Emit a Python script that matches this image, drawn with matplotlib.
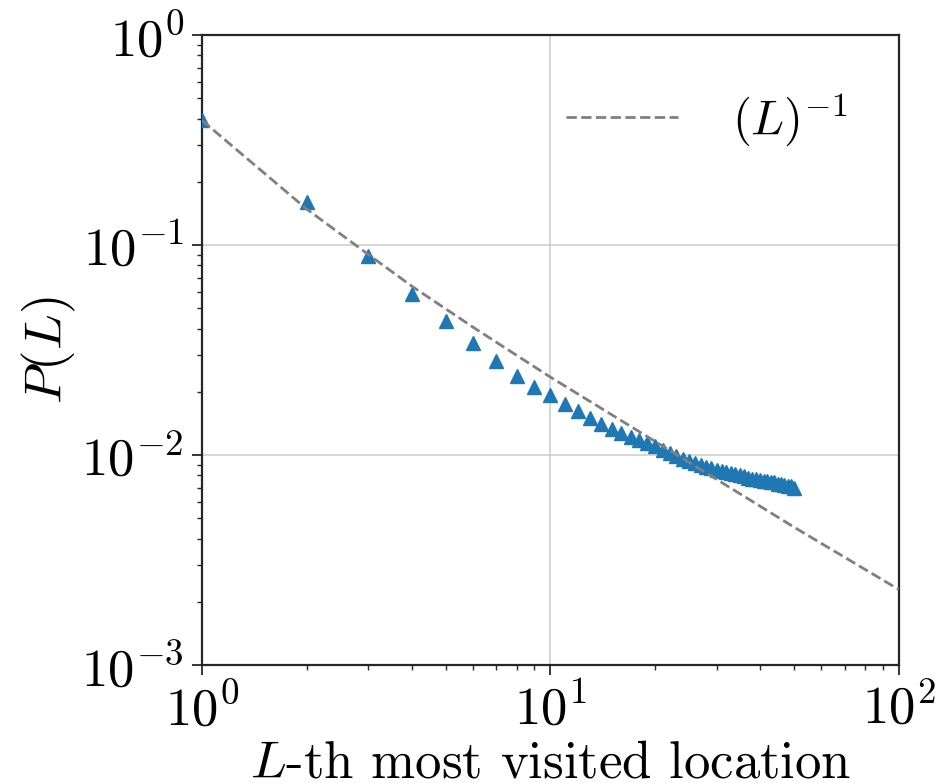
import numpy as np
import matplotlib
matplotlib.use("Agg")
import matplotlib.pyplot as plt

# rank of location and visit probability
rank = np.arange(1, 51)
p_rank = [0.395, 0.160, 0.0887, 0.0585, 0.0435, 0.0341, 0.0280, 0.0238, 0.0211, 0.0193,
          0.0175, 0.0162, 0.0150, 0.0141, 0.0133, 0.0127, 0.0122, 0.0118, 0.0114, 0.0110,
          0.0106, 0.0102, 0.0099, 0.0096, 0.0094, 0.0092, 0.0090, 0.0088, 0.0087, 0.0085,
          0.0084, 0.0083, 0.0082, 0.0081, 0.0080, 0.0079, 0.0078, 0.0077, 0.0077, 0.0076,
          0.0075, 0.0075, 0.0074, 0.0074, 0.0073, 0.0073, 0.0072, 0.0071, 0.0071, 0.0070]

# reference line, points
ref_x = [1, 2, 3, 4, 6, 10, 20, 50, 100]
ref_y = [0.392, 0.148, 0.0902, 0.0637, 0.0406, 0.0235, 0.0116, 0.00454, 0.00229]
ref_label = r"$(L)^{-1}$"

plt.rcParams["font.family"] = "serif"
plt.rcParams["font.serif"] = ["cmr10", "DejaVu Serif"]
plt.rcParams["mathtext.fontset"] = "cm"
plt.rcParams["axes.formatter.use_mathtext"] = True

fs = 38
fig = plt.figure(figsize=(9.53, 7.83), dpi=100)
ax = fig.add_axes([0.212, 0.1507, 0.731, 0.8046])

ax.plot(rank, p_rank, "^", color="#1f77b4", ms=10, mew=1, zorder=3, clip_on=True)
ax.plot(ref_x, ref_y, "--", color="gray", lw=2, label=ref_label, zorder=4)

ax.set_xscale("log")
ax.set_yscale("log")
ax.set_xlim(1, 100)
ax.set_ylim(1e-3, 1)

ax.grid(True, which="major", color="#cccccc", lw=1.1)
ax.set_axisbelow(True)
for s in ax.spines.values():
    s.set_color("#262626")
    s.set_linewidth(1.6)

ax.tick_params(which="major", direction="out", length=7, width=1.3, color="#262626",
               labelsize=fs, pad=6, top=False, right=False)
ax.tick_params(which="minor", direction="out", length=3.5, width=1.0, color="#262626",
               top=False, right=False)

ax.set_xlabel(r"$L$-th most visited location", fontsize=fs, labelpad=4)
ax.set_ylabel(r"$P(L)$", fontsize=fs, labelpad=2)

ax.legend(loc="center right", bbox_to_anchor=(0.954, 0.866), frameon=False,
          fontsize=35, handlelength=2.3, handletextpad=1.1, borderaxespad=0)

fig.savefig("out.png", dpi=100)
